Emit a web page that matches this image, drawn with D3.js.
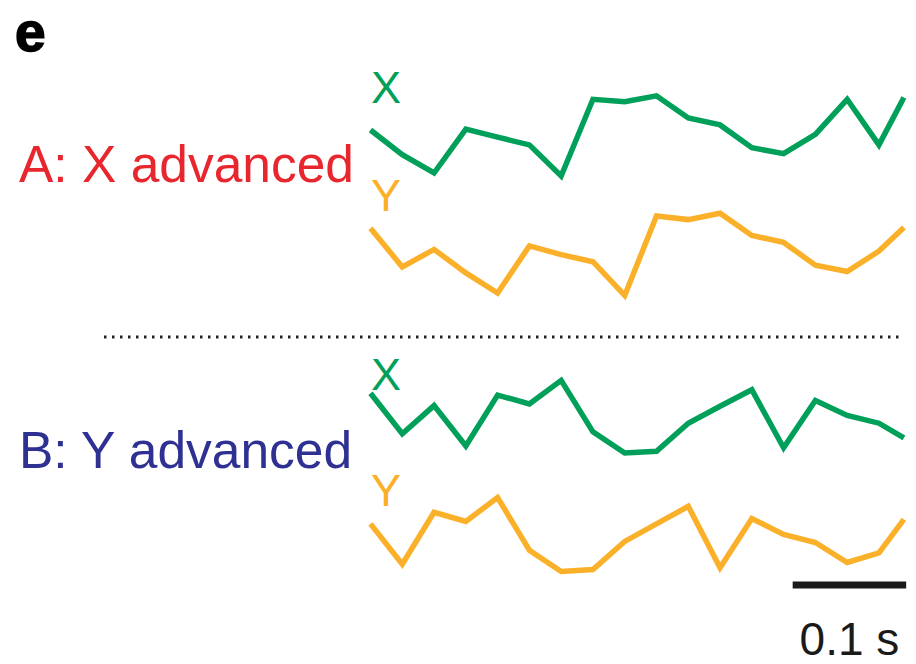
<!DOCTYPE html>
<html>
<head>
<meta charset="utf-8">
<script src="https://cdn.jsdelivr.net/npm/d3@7"></script>
<style>
  html, body { margin: 0; padding: 0; background: #fff; }
  svg { display: block; }
</style>
</head>
<body>
<script>
// Sample times (ms) shared by all four traces
const sampleTimes = [0, 28, 56, 84, 112, 140, 168, 196, 224, 252, 280, 308, 336, 364, 392, 420, 448, 470];

// Condition A: X advanced (amplitude, arbitrary units)
const aX = [50, 25.3, 7, 50.9, 42.8, 35.1, 4, 80.7, 78.2, 84.2, 62.1, 55.1, 32.3, 26.3, 45.6, 80.7, 35.1, 82.5];
const aY = [71.7, 33.1, 50.6, 27.1, 7, 54.1, 45.4, 38.3, 4.5, 84, 80.4, 86.8, 64.6, 57.6, 34.8, 28.5, 48.9, 72.4];

// Condition B: Y advanced
const bX = [66.7, 26.3, 54.4, 14, 64.9, 56.1, 79.6, 28.1, 7, 8.8, 36.8, 53.7, 70.2, 12.3, 59.6, 44.6, 36.8, 22.1];
const bY = [51.1, 10.8, 62.7, 53.6, 77.5, 24.8, 3.5, 5.5, 33.6, 51.1, 68.7, 7.3, 56.4, 40.6, 32.5, 12.5, 22, 55.7];

const conditionLabels = ["A: X advanced", "B: Y advanced"];
const traceNames = ["X", "Y"];
const scaleBarMs = 100;
const scaleBarLabel = "0.1 s";
const panelLetter = "e";

const W = 916, H = 664;
const FONT = "'Liberation Sans', Arial, Helvetica, sans-serif";
const GREEN = "#00a05a", ORANGE = "#fbb02a", RED = "#e8262d", BLUE = "#2e3192";

const svg = d3.select("body").append("svg")
  .attr("width", W).attr("height", H)
  .attr("viewBox", `0 0 ${W} ${H}`);

// Shared time axis
const x = d3.scaleLinear().domain([0, 470]).range([370.5, 903.9]);

const traces = [
  { values: aX, color: GREEN, bottom: 180, name: traceNames[0], labelY: 103 },
  { values: aY, color: ORANGE, bottom: 300, name: traceNames[1], labelY: 211 },
  { values: bX, color: GREEN, bottom: 460, name: traceNames[0], labelY: 390 },
  { values: bY, color: ORANGE, bottom: 575, name: traceNames[1], labelY: 506 }
];

traces.forEach(tr => {
  const y = d3.scaleLinear().domain([0, 90]).range([tr.bottom, tr.bottom - 90]);
  const line = d3.line()
    .x((d, i) => x(sampleTimes[i]))
    .y(d => y(d));
  svg.append("path")
    .datum(tr.values)
    .attr("d", line)
    .attr("fill", "none")
    .attr("stroke", tr.color)
    .attr("stroke-width", 5.5)
    .attr("stroke-linejoin", "miter")
    .attr("stroke-miterlimit", 4);
  svg.append("text")
    .attr("x", 371)
    .attr("y", tr.labelY)
    .attr("font-family", FONT)
    .attr("font-size", 45)
    .attr("fill", tr.color)
    .text(tr.name);
});

// Condition labels
svg.append("text")
  .attr("x", 19).attr("y", 182)
  .attr("font-family", FONT).attr("font-size", 51.5)
  .attr("fill", RED)
  .text(conditionLabels[0]);
svg.append("text")
  .attr("x", 19).attr("y", 468)
  .attr("font-family", FONT).attr("font-size", 51.5)
  .attr("fill", BLUE)
  .text(conditionLabels[1]);

// Panel letter
svg.append("text")
  .attr("x", 15).attr("y", 51)
  .attr("font-family", FONT).attr("font-size", 55).attr("font-weight", "bold")
  .attr("fill", "#000")
  .attr("stroke", "#000").attr("stroke-width", 1.6)
  .text(panelLetter);

// Separator between conditions
svg.append("line")
  .attr("x1", 104).attr("x2", 900)
  .attr("y1", 337).attr("y2", 337)
  .attr("stroke", "#222")
  .attr("stroke-width", 3)
  .attr("stroke-dasharray", "2.5 5.5");

// Time scale bar
const barEnd = 472;
svg.append("line")
  .attr("x1", x(barEnd - scaleBarMs)).attr("x2", x(barEnd))
  .attr("y1", 585).attr("y2", 585)
  .attr("stroke", "#1a1a1a")
  .attr("stroke-width", 7);
svg.append("text")
  .attr("x", (x(barEnd - scaleBarMs) + x(barEnd)) / 2)
  .attr("y", 655)
  .attr("text-anchor", "middle")
  .attr("font-family", FONT).attr("font-size", 46)
  .attr("fill", "#1a1a1a")
  .text(scaleBarLabel);
</script>
</body>
</html>
